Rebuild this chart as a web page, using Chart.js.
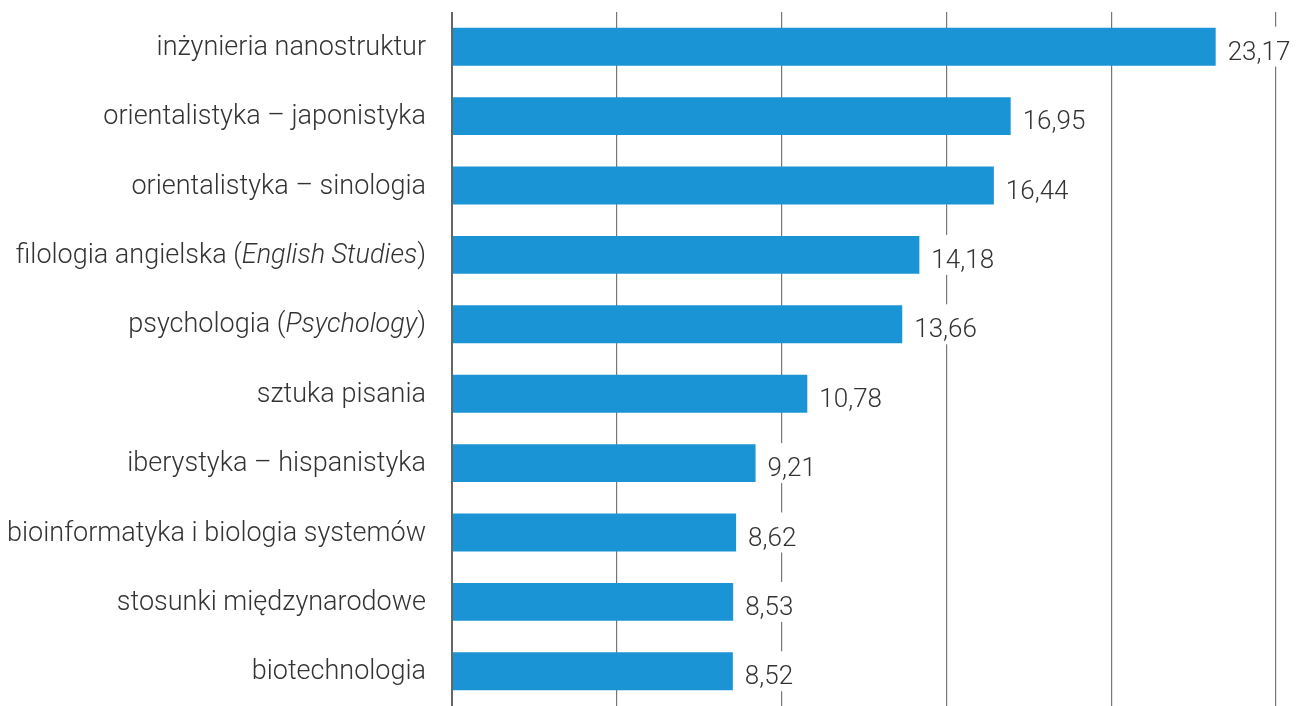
<!DOCTYPE html>
<html>
<head>
<meta charset="utf-8">
<script src="https://cdn.jsdelivr.net/npm/chart.js@4.4.1/dist/chart.umd.min.js"></script>
<style>
  html, body { margin: 0; padding: 0; background: #fff; }
  #wrap { width: 1299px; height: 706px; }
</style>
</head>
<body>
<div id="wrap"><canvas id="myChart"></canvas></div>
<script>
// data
const categories = [
    'inżynieria nanostruktur',
    'orientalistyka – japonistyka',
    'orientalistyka – sinologia',
    'filologia angielska (English Studies)',
    'psychologia (Psychology)',
    'sztuka pisania',
    'iberystyka – hispanistyka',
    'bioinformatyka i biologia systemów',
    'stosunki międzynarodowe',
    'biotechnologia'
];

// label pieces, italic parts flagged with *
const labelParts = [
    ['inżynieria nanostruktur'],
    ['orientalistyka – japonistyka'],
    ['orientalistyka – sinologia'],
    ['filologia angielska (', '*English Studies', ')'],
    ['psychologia (', '*Psychology', ')'],
    ['sztuka pisania'],
    ['iberystyka – hispanistyka'],
    ['bioinformatyka i biologia systemów'],
    ['stosunki międzynarodowe'],
    ['biotechnologia']
];

const values = [23.17, 16.95, 16.44, 14.18, 13.66, 10.78, 9.21, 8.62, 8.53, 8.52];

const xTicks = [0, 5, 10, 15, 20, 25];

const BAR_COLOR = '#1a94d5';
const TEXT_COLOR = '#333333';
const FONT = '"Roboto", sans-serif';

// draws category labels with mixed italic text
const categoryLabels = {
    id: 'categoryLabels',
    afterDraw(chart) {
        const c = chart.ctx;
        const yScale = chart.scales.y;
        c.save();
        c.fillStyle = TEXT_COLOR;
        c.textBaseline = 'alphabetic';
        c.textAlign = 'left';
        labelParts.forEach((parts, i) => {
            const y = yScale.getPixelForValue(i) + 8;
            const fonts = parts.map(p => p.startsWith('*')
                ? 'italic 300 27px ' + FONT
                : '300 27px ' + FONT);
            const texts = parts.map(p => p.replace(/^\*/, ''));
            let total = 0;
            const widths = texts.map((t, k) => {
                c.font = fonts[k];
                const w = c.measureText(t).width;
                total += w;
                return w;
            });
            let x = chart.chartArea.left - 26 - total;
            texts.forEach((t, k) => {
                c.font = fonts[k];
                c.fillText(t, x, y);
                x += widths[k];
            });
        });
        c.restore();
    }
};

// value labels with a white box that cuts the grid lines
const valueLabels = {
    id: 'valueLabels',
    afterDatasetsDraw(chart) {
        const c = chart.ctx;
        const meta = chart.getDatasetMeta(0);
        c.save();
        c.font = '300 26px ' + FONT;
        c.textBaseline = 'alphabetic';
        c.textAlign = 'left';
        meta.data.forEach((bar, i) => {
            const txt = values[i].toFixed(2).replace('.', ',');
            const w = c.measureText(txt).width;
            const x = bar.x + 12;
            const y = bar.y + 13;
            c.fillStyle = '#ffffff';
            c.fillRect(x - 5, y - 33, w + 10, 40);
            c.fillStyle = TEXT_COLOR;
            c.fillText(txt, x, y);
        });
        c.restore();
    }
};

new Chart(document.getElementById('myChart'), {
    type: 'bar',
    data: {
        labels: categories,
        datasets: [{
            data: values,
            backgroundColor: BAR_COLOR,
            borderWidth: 0,
            barPercentage: 0.546,
            categoryPercentage: 1
        }]
    },
    options: {
        indexAxis: 'y',
        responsive: true,
        maintainAspectRatio: false,
        animation: false,
        layout: {
            padding: { top: 12, right: 23, bottom: 0, left: 0 }
        },
        plugins: {
            legend: { display: false },
            tooltip: { enabled: false }
        },
        scales: {
            x: {
                min: 0,
                max: 25,
                afterBuildTicks(scale) {
                    scale.ticks = xTicks.map(v => ({ value: v }));
                },
                ticks: { display: false },
                border: { display: false },
                grid: {
                    color: ctx => ctx.index === 0 ? '#666666' : '#777777',
                    lineWidth: ctx => ctx.index === 0 ? 2 : 1.2,
                    drawTicks: false
                }
            },
            y: {
                ticks: { display: false },
                grid: { display: false },
                border: { display: false },
                afterFit(scale) {
                    scale.width = 452;
                }
            }
        }
    },
    plugins: [valueLabels, categoryLabels]
});
</script>
</body>
</html>
